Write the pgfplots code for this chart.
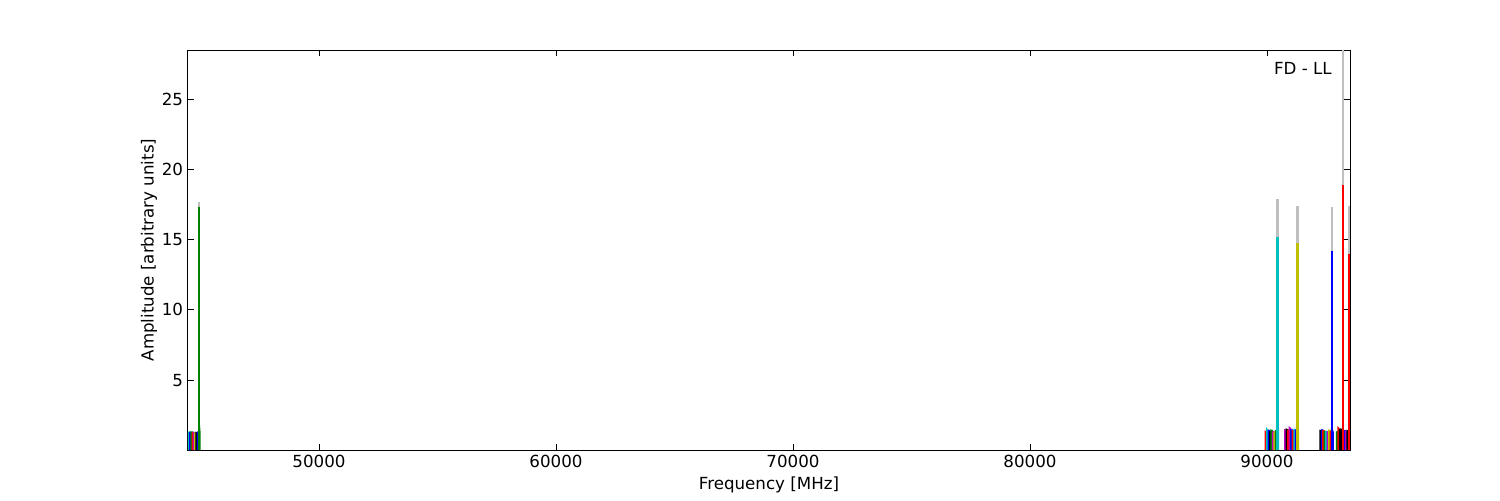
\documentclass[border=0pt]{standalone}
\usepackage{fontspec}
\setmainfont{DejaVu Sans}
\usepackage{pgfplots}
\pgfplotsset{compat=1.18}
\definecolor{mb}{rgb}{0,0,1}
\definecolor{mg}{rgb}{0,0.5,0}
\definecolor{mr}{rgb}{1,0,0}
\definecolor{mc}{rgb}{0,0.75,0.75}
\definecolor{mm}{rgb}{0.75,0,0.75}
\definecolor{my}{rgb}{0.75,0.75,0}
\definecolor{mk}{rgb}{0,0,0}
\definecolor{mgr}{rgb}{0.75,0.75,0.75}
\begin{document}
\begin{tikzpicture}
\useasboundingbox (-135.36pt,-36pt) rectangle (944.64pt,324pt);
\begin{axis}[
 at={(0,0)}, anchor=south west,
 width=836.64pt, height=288pt, scale only axis,
 xmin=44473, xmax=93502, ymin=0.02, ymax=28.5,
 xtick={50000,60000,70000,80000,90000},
 ytick={5,10,15,20,25},
 minor tick num=0,
 scaled x ticks=false,
 xticklabel style={/pgf/number format/1000 sep={}},
 /pgf/number format/assume math mode=true,
 tick align=inside, major tick length=4pt,
 tick style={black, line width=0.5pt},
 xlabel={Frequency [MHz]}, ylabel={Amplitude [arbitrary units]},
 ylabel shift=-3.5pt,
 label style={font=\fontsize{12}{14}\selectfont},
 tick label style={font=\fontsize{12}{14}\selectfont},
 axis line style={line width=0.72pt},
 every axis plot/.append style={line width=1pt, mark=none},
 clip=true,
]
% grey total spectra peaks
\addplot[mgr, line width=1.5pt] coordinates {(44937,0.02)(44937,17.7)};
\addplot[mgr, line width=1.5pt] coordinates {(90443,0.02)(90443,17.9)};
\addplot[mgr, line width=1.0pt] coordinates {(90470,0.02)(90470,5.9)};
\addplot[mgr, line width=1.5pt] coordinates {(91287,0.02)(91287,17.4)};
\addplot[mgr, line width=1.0pt] coordinates {(91310,0.02)(91310,4.8)};
\addplot[mgr, line width=1.5pt] coordinates {(92743,0.02)(92743,17.3)};
\addplot[mgr, line width=1.0pt] coordinates {(92770,0.02)(92770,4.9)};
\addplot[mgr, line width=1.5pt] coordinates {(93207,0.02)(93207,30)};
\addplot[mgr, line width=1.5pt] coordinates {(93465,0.02)(93465,17.4)};
% cluster 1
\addplot[mc] coordinates {(44494,0.02)(44494,1.28)(44520,1.30)(44542,1.26)(44542,0.02)};
\addplot[mb] coordinates {(44548,0.02)(44548,1.25)(44570,1.27)(44596,1.24)(44596,0.02)};
\addplot[mg] coordinates {(44602,0.02)(44602,1.30)(44625,1.28)(44650,1.29)(44650,0.02)};
\addplot[mr] coordinates {(44656,0.02)(44656,1.22)(44680,1.24)(44704,1.21)(44704,0.02)};
\addplot[mm] coordinates {(44710,0.02)(44710,1.27)(44735,1.25)(44758,1.26)(44758,0.02)};
\addplot[my] coordinates {(44764,0.02)(44764,1.22)(44790,1.23)(44812,1.21)(44812,0.02)};
\addplot[mk] coordinates {(44818,0.02)(44818,1.24)(44840,1.22)(44866,1.25)(44866,0.02)};
\addplot[mb] coordinates {(44872,0.02)(44872,1.28)(44895,1.26)(44920,1.27)(44920,0.02)};
\addplot[mg] coordinates {(44926,0.02)(44926,1.30)(44936,1.30)(44937,1.5)(44960,1.6)(44974,1.3)(44974,0.02)};
\addplot[mg, line width=1.4pt] coordinates {(44937,0.02)(44937,17.3)};
% cluster 2
\addplot[mr] coordinates {(89928,0.02)(89928,1.35)(89955,1.33)(89984,1.34)(89984,0.02)};
\addplot[mc] coordinates {(89990,0.02)(89990,1.52)(90020,1.45)(90046,1.40)(90046,0.02)};
\addplot[mb] coordinates {(90052,0.02)(90052,1.40)(90080,1.42)(90108,1.38)(90108,0.02)};
\addplot[mk] coordinates {(90114,0.02)(90114,1.32)(90140,1.34)(90170,1.30)(90170,0.02)};
\addplot[mg] coordinates {(90176,0.02)(90176,1.42)(90205,1.38)(90232,1.40)(90232,0.02)};
\addplot[mm] coordinates {(90238,0.02)(90238,1.30)(90265,1.32)(90294,1.29)(90294,0.02)};
\addplot[my] coordinates {(90300,0.02)(90300,1.28)(90330,1.30)(90356,1.27)(90356,0.02)};
\addplot[mg] coordinates {(90362,0.02)(90362,1.38)(90390,1.36)(90418,1.40)(90418,0.02)};
\addplot[mc] coordinates {(90424,0.02)(90424,1.40)(90469,1.5)(90480,1.4)(90480,0.02)};
\addplot[mc, line width=1.5pt] coordinates {(90443,0.02)(90443,15.2)};
\addplot[mc, line width=1.2pt] coordinates {(90470,0.02)(90470,1.9)};
% cluster 3
\addplot[mm] coordinates {(90747,0.02)(90747,1.45)(90775,1.43)(90805,1.44)(90805,0.02)};
\addplot[mk] coordinates {(90812,0.02)(90812,1.50)(90840,1.48)(90870,1.47)(90870,0.02)};
\addplot[mr] coordinates {(90877,0.02)(90877,1.40)(90905,1.42)(90935,1.38)(90935,0.02)};
\addplot[mm] coordinates {(90942,0.02)(90942,1.62)(90970,1.58)(91000,1.55)(91000,0.02)};
\addplot[mb] coordinates {(91007,0.02)(91007,1.45)(91035,1.43)(91065,1.44)(91065,0.02)};
\addplot[mr] coordinates {(91072,0.02)(91072,1.38)(91100,1.40)(91130,1.37)(91130,0.02)};
\addplot[mc] coordinates {(91137,0.02)(91137,1.48)(91165,1.46)(91195,1.47)(91195,0.02)};
\addplot[mb] coordinates {(91202,0.02)(91202,1.42)(91230,1.40)(91260,1.41)(91260,0.02)};
\addplot[my] coordinates {(91267,0.02)(91267,1.40)(91309,1.5)(91325,1.4)(91325,0.02)};
\addplot[my, line width=1.5pt] coordinates {(91287,0.02)(91287,14.75)};
\addplot[my, line width=1.2pt] coordinates {(91310,0.02)(91310,1.9)};
% cluster 4
\addplot[mk] coordinates {(92236,0.02)(92236,1.40)(92265,1.38)(92292,1.39)(92292,0.02)};
\addplot[mb] coordinates {(92298,0.02)(92298,1.45)(92325,1.43)(92354,1.44)(92354,0.02)};
\addplot[mr] coordinates {(92360,0.02)(92360,1.38)(92390,1.40)(92416,1.37)(92416,0.02)};
\addplot[mg] coordinates {(92422,0.02)(92422,1.35)(92450,1.33)(92478,1.34)(92478,0.02)};
\addplot[mc] coordinates {(92484,0.02)(92484,1.32)(92510,1.34)(92540,1.31)(92540,0.02)};
\addplot[mm] coordinates {(92546,0.02)(92546,1.30)(92575,1.32)(92602,1.29)(92602,0.02)};
\addplot[my] coordinates {(92608,0.02)(92608,1.42)(92635,1.40)(92664,1.41)(92664,0.02)};
\addplot[mr] coordinates {(92670,0.02)(92670,1.35)(92700,1.33)(92726,1.34)(92726,0.02)};
\addplot[mb] coordinates {(92732,0.02)(92732,1.30)(92769,1.4)(92788,1.3)(92788,0.02)};
\addplot[mb, line width=1.4pt] coordinates {(92743,0.02)(92743,14.2)};
\addplot[mb, line width=1.2pt] coordinates {(92770,0.02)(92770,2.4)};
% cluster 5
\addplot[mg] coordinates {(92939,0.02)(92939,1.30)(92965,1.32)(92995,1.29)(92995,0.02)};
\addplot[mr] coordinates {(93001,0.02)(93001,1.60)(93030,1.55)(93057,1.52)(93057,0.02)};
\addplot[mk] coordinates {(93063,0.02)(93063,1.45)(93090,1.43)(93119,1.44)(93119,0.02)};
\addplot[mk] coordinates {(93125,0.02)(93125,1.50)(93155,1.48)(93181,1.47)(93181,0.02)};
\addplot[mr] coordinates {(93187,0.02)(93187,1.30)(93243,1.3)(93243,0.02)};
\addplot[mb] coordinates {(93249,0.02)(93249,1.40)(93275,1.38)(93305,1.39)(93305,0.02)};
\addplot[mm] coordinates {(93311,0.02)(93311,1.35)(93340,1.33)(93367,1.34)(93367,0.02)};
\addplot[mk] coordinates {(93373,0.02)(93373,1.40)(93400,1.38)(93429,1.39)(93429,0.02)};
\addplot[mr] coordinates {(93435,0.02)(93435,1.30)(93491,1.3)(93491,0.02)};
\addplot[mr, line width=1.4pt] coordinates {(93207,0.02)(93207,18.9)};
\addplot[mr, line width=1.4pt] coordinates {(93442,0.02)(93442,14.0)};
\node[anchor=north east, inner sep=0pt, font=\fontsize{12}{14}\selectfont] at (rel axis cs:1,1) [xshift=-13pt, yshift=-9pt] {FD - LL};
\end{axis}
\end{tikzpicture}
\end{document}
